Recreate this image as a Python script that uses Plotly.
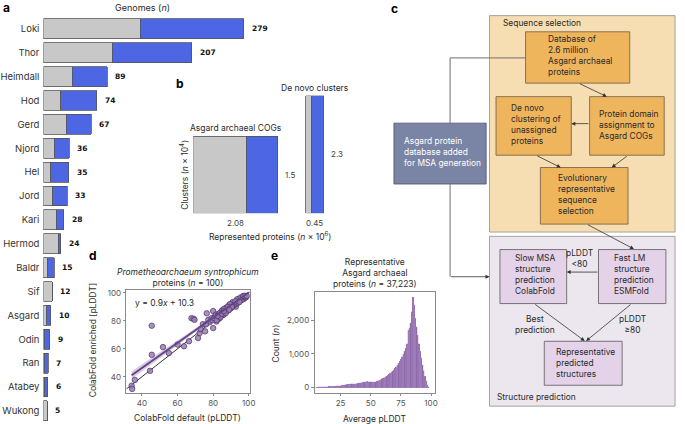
import numpy as np
import plotly.graph_objects as go

W, H = 685, 424
FONT = "Inter"
TXT = "#2a2a2a"

# ---------------- data ----------------
# Panel a: genomes per Asgard lineage
lineages = ["Loki", "Thor", "Heimdall", "Hod", "Gerd", "Njord", "Hel", "Jord", "Kari",
            "Hermod", "Baldr", "Sif", "Asgard", "Odin", "Ran", "Atabey", "Wukong"]
genomes_total = [279, 207, 89, 74, 67, 36, 35, 33, 28, 24, 15, 12, 10, 9, 7, 6, 5]
genomes_gray = [135, 96, 40, 24, 32, 15, 10, 13, 18, 21, 6, 12, 4, 1, 1, 2, 5]

# Panel b: clusters vs represented proteins
b_groups = ["Asgard archaeal COGs", "De novo clusters"]
b_proteins = [2.08, 0.45]        # x 10^6
b_clusters = [1.5, 2.3]          # x 10^4
b_proteins_gray = [1.31, 0.14]   # gray part of the width

# Panel d: ColabFold default vs enriched pLDDT
d_default = [34.2, 34.5, 36.0, 44.5, 45.5, 45.5, 51.8, 55.1, 63.6, 66.4,
             67.8, 69.0, 69.5, 71.5, 72.4, 73.0, 74.2, 75.5, 76.4, 77.3,
             79.1, 80.0, 80.0, 81.0, 81.8, 82.7, 83.6, 85.5, 87.3, 87.3,
             89.0, 90.9, 92.7, 94.5, 97.3, 78.0, 79.5, 80.5, 81.5, 82.0,
             83.0, 83.5, 84.0, 84.5, 85.0, 85.5, 86.0, 86.5, 87.0, 87.5,
             88.0, 88.5, 89.0, 89.5, 90.0, 90.0, 90.5, 91.0, 91.5, 92.0,
             92.0, 92.5, 93.0, 93.0, 93.5, 94.0, 94.0, 94.5, 95.0, 95.0,
             95.5, 96.0, 96.0, 96.5, 97.0, 97.0, 97.5, 98.0, 98.0, 98.5,
             91.0, 89.5, 88.0, 86.0, 84.0, 82.5, 85.0, 87.0, 93.5, 95.5,
             96.8, 92.5, 90.5, 89.0, 94.8, 97.8, 99.0, 60.0, 76.0, 86.0]
d_enriched = [33.6, 31.3, 37.7, 44.2, 55.7, 76.5, 61.2, 56.9, 61.8, 65.4,
              81.9, 81.5, 80.7, 67.7, 71.3, 74.0, 77.6, 72.5, 85.4, 80.7,
              81.9, 74.8, 87.0, 83.0, 79.5, 81.0, 81.9, 84.2, 86.6, 89.4,
              91.3, 92.4, 90.1, 95.5, 96.5, 79.0, 80.5, 82.0, 84.5, 80.5,
              85.0, 84.0, 86.0, 83.5, 87.5, 86.0, 84.5, 88.0, 87.0, 89.0,
              88.5, 87.5, 89.5, 90.5, 89.0, 91.0, 92.0, 90.5, 92.5, 91.5,
              93.0, 92.0, 93.5, 92.5, 94.0, 93.0, 94.5, 94.0, 95.0, 96.0,
              95.0, 96.0, 95.0, 96.5, 97.0, 95.5, 96.8, 97.5, 96.5, 97.0,
              93.5, 92.0, 90.0, 88.5, 82.5, 83.5, 85.0, 85.5, 95.5, 96.8,
              97.8, 94.0, 90.0, 88.0, 93.5, 98.0, 97.8, 63.0, 77.5, 87.0]
fit_slope, fit_intercept = 0.9, 10.3

# Panel e: histogram of average pLDDT (bin centres, counts)
e_bins = list(range(5, 99))
e_counts = [10, 15, 20, 20, 22, 25, 25, 28, 30, 30,
            32, 35, 35, 38, 40, 42, 45, 48, 50, 55,
            60, 65, 70, 78, 85, 92, 100, 105, 108, 110,
            112, 115, 118, 120, 125, 130, 138, 145, 152, 160,
            168, 175, 180, 178, 172, 168, 165, 162, 165, 175,
            190, 205, 220, 238, 255, 275, 295, 318, 340, 365,
            390, 418, 450, 485, 525, 568, 615, 665, 720, 780,
            845, 910, 985, 1070, 1170, 1300, 1700, 1760, 1900, 2250,
            2680, 2450, 2050, 1800, 1550, 1300, 1080, 880, 680, 500,
            340, 200, 90, 25]

# ---------------- helpers ----------------
def fx(p):
    return p / W

def fy(p):
    return 1 - p / H

GRAY = "#c8c8c8"
BLUE = "#4d66e3"
EDGE = "#555555"

fig = go.Figure()
ann = []
shapes = []

# ---------------- panel a ----------------
genomes_blue = [t - g for t, g in zip(genomes_total, genomes_gray)]
fig.add_trace(go.Bar(y=lineages, x=genomes_gray, orientation="h", marker=dict(color=GRAY, line=dict(color=EDGE, width=0.8)),
                     xaxis="x", yaxis="y", showlegend=False, hoverinfo="skip"))
fig.add_trace(go.Bar(y=lineages, x=genomes_blue, orientation="h", marker=dict(color=BLUE, line=dict(color=EDGE, width=0.8)),
                     xaxis="x", yaxis="y", showlegend=False, hoverinfo="skip"))
for lab, tot in zip(lineages, genomes_total):
    ann.append(dict(x=tot, y=lab, xref="x", yref="y", text=str(tot), showarrow=False, xanchor="left", xshift=6,
                    font=dict(family="DejaVu Sans", size=7.5, color="#111", weight="bold")))

# ---------------- panel b ----------------
b_gap = 0.7
left = 0.0
for g, prot, clu, gr in zip(b_groups, b_proteins, b_clusters, b_proteins_gray):
    fig.add_trace(go.Bar(x=[left + gr / 2], y=[clu], width=[gr], marker=dict(color=GRAY, line=dict(color=EDGE, width=0.8)),
                         xaxis="x2", yaxis="y2", showlegend=False, hoverinfo="skip"))
    fig.add_trace(go.Bar(x=[left + gr + (prot - gr) / 2], y=[clu], width=[prot - gr],
                         marker=dict(color=BLUE, line=dict(color=EDGE, width=0.8)),
                         xaxis="x2", yaxis="y2", showlegend=False, hoverinfo="skip"))
    ann.append(dict(x=left + prot / 2, y=0, xref="x2", yref="y2", text=f"{prot:.2f}", showarrow=False,
                    yanchor="top", yshift=-3, font=dict(family=FONT, size=8, color="#444")))
    ann.append(dict(x=left + prot, y=clu / 2, xref="x2", yref="y2", text=f"{clu}", showarrow=False,
                    xanchor="left", xshift=5, font=dict(family=FONT, size=8, color="#444")))
    ann.append(dict(x=left + prot / 2, y=clu, xref="x2", yref="y2", text=g, showarrow=False,
                    yanchor="bottom", yshift=1, font=dict(family=FONT, size=8.5, color=TXT)))
    left += prot + b_gap
b_xmax = left - b_gap

# ---------------- panel d ----------------
xd = np.array(d_default)
yd = np.array(d_enriched)
xline = np.linspace(xd.min(), 100, 60)
yline = fit_slope * xline + fit_intercept
res = yd - (fit_slope * xd + fit_intercept)
s = np.sqrt(np.sum(res ** 2) / (len(xd) - 2))
se = s * np.sqrt(1 / len(xd) + (xline - xd.mean()) ** 2 / np.sum((xd - xd.mean()) ** 2))
band = 1.98 * se
fig.add_trace(go.Scatter(x=[28, 102], y=[28, 102], mode="lines", line=dict(color="#333333", width=1),
                         xaxis="x3", yaxis="y3", showlegend=False, hoverinfo="skip"))
fig.add_trace(go.Scatter(x=np.concatenate([xline, xline[::-1]]), y=np.concatenate([yline + band, (yline - band)[::-1]]),
                         fill="toself", fillcolor="rgba(150,110,180,0.35)", line=dict(width=0),
                         xaxis="x3", yaxis="y3", showlegend=False, hoverinfo="skip"))
fig.add_trace(go.Scatter(x=xd, y=yd, mode="markers",
                         marker=dict(size=5.5, color="rgba(155,125,182,0.85)", line=dict(color="#4a3463", width=0.7)),
                         xaxis="x3", yaxis="y3", showlegend=False, hoverinfo="skip"))
fig.add_trace(go.Scatter(x=xline, y=yline, mode="lines", line=dict(color="#65468a", width=2),
                         xaxis="x3", yaxis="y3", showlegend=False, hoverinfo="skip"))

# ---------------- panel e ----------------
fig.add_trace(go.Bar(x=e_bins, y=e_counts, width=1, marker=dict(color="#8f6aab", line=dict(color="#ab90c3", width=0.3)),
                     xaxis="x4", yaxis="y4", showlegend=False, hoverinfo="skip"))

# ---------------- panel c (flow chart) ----------------
def box(x0, y0, x1, y1, fill, line="#666666", lw=0.8):
    shapes.append(dict(type="rect", xref="paper", yref="paper", x0=fx(x0), x1=fx(x1), y0=fy(y1), y1=fy(y0),
                       fillcolor=fill, line=dict(color=line, width=lw), layer="below"))

def seg(x0, y0, x1, y1, color="#6e6e6e", lw=1):
    shapes.append(dict(type="line", xref="paper", yref="paper", x0=fx(x0), x1=fx(x1), y0=fy(y0), y1=fy(y1),
                       line=dict(color=color, width=lw)))

def arrow(x0, y0, x1, y1, color="#333333"):
    ann.append(dict(x=fx(x1), y=fy(y1), xref="paper", yref="paper", ax=x0 - x1, ay=y0 - y1, axref="pixel", ayref="pixel",
                    showarrow=True, arrowhead=2, arrowsize=1, arrowwidth=0.8, arrowcolor=color, text=" ",
                    font=dict(size=1)))

def label(x, y, text, xanchor="left", size=8.4, color=TXT, align="left", **kw):
    d = dict(x=fx(x), y=fy(y), xref="paper", yref="paper", text=text, showarrow=False, xanchor=xanchor,
             yanchor="middle", align=align, font=dict(family=FONT, size=size, color=color))
    d.update(kw)
    ann.append(d)

ORANGE = "#efb55d"
PURPLE = "#e3d2e8"
box(492.7, 12.7, 681, 230.7, "#f6deb2", "#8e8e8e")
box(492.7, 235, 681, 406, "#ece6ee", "#8e8e8e")
box(529.3, 29, 635, 80.7, ORANGE, "#6b5c45")
box(499.3, 94.3, 575.7, 153.3, ORANGE, "#6b5c45")
box(594.3, 94.3, 670, 153.3, ORANGE, "#6b5c45")
box(544.3, 165.7, 633.3, 222.7, ORANGE, "#6b5c45")
box(395.7, 121, 489.3, 182.3, "#7a84a5", "#4b5068")
box(503.3, 248.3, 571, 302.7, PURPLE, "#5a5a5a")
box(603.3, 248.3, 671.7, 302.7, PURPLE, "#5a5a5a")
box(548.3, 340.7, 627.3, 385, PURPLE, "#5a5a5a")

seg(529.3, 55.3, 452.7, 55.3)
seg(452.7, 55.3, 452.7, 121)
seg(452.7, 182.3, 452.7, 275.7)
arrow(452.7, 275.7, 492.7, 275.7)

arrow(583.3, 80.7, 611.7, 94.3)
arrow(594.3, 121.5, 575.7, 121.5)
arrow(540, 153.3, 565, 165.7)
arrow(633.3, 153.3, 616.7, 165.7)
arrow(591.7, 222.7, 639.3, 247.8)
arrow(603.3, 271, 571, 271)
arrow(538.3, 302.7, 589.3, 340.4)
arrow(636.7, 302.7, 590.7, 340.4)

label(504, 20, "Sequence selection")
label(550, 52.9, "Database of<br>2.6 million<br>Asgard archaeal<br>proteins")
label(512.7, 122.4, "De novo<br>clustering of<br>unassigned<br>proteins")
label(601.7, 122.5, "Protein domain<br>assignment to<br>Asgard COGs")
label(560, 192.5, "Evolutionary<br>representative<br>sequence<br>selection")
label(404, 150.2, "Asgard protein<br>database added<br>for MSA generation", color="#ffffff")
label(516.7, 273.8, "Slow MSA<br>structure<br>prediction<br>ColabFold")
label(617.3, 273.8, "Fast LM<br>structure<br>prediction<br>ESMFold")
label(558.3, 363, "Representative<br>predicted<br>structures")
label(584, 257.7, "pLDDT<br>&lt;80", xanchor="center", align="center")
label(539.3, 323.9, "Best<br>prediction", xanchor="center", align="center")
label(638.3, 323.9, "pLDDT<br>≥80", xanchor="center", align="center")
label(498.3, 397.3, "Structure prediction")

# ---------------- titles / axis labels ----------------
for t, x, y in [("a", 3, 5), ("b", 179, 81), ("c", 396, 6), ("d", 90, 254), ("e", 274.5, 254)]:
    label(x, y, f"<b>{t}</b>", xanchor="center", size=12, color="#000")
label(141, 5, "Genomes (<i>n</i>)", xanchor="center", size=9)
label(182.7, 173, "Clusters (<i>n</i> × 10<sup>4</sup>)", xanchor="center", size=8.5, textangle=-90)
label(270, 235, "Represented proteins (<i>n</i> × 10<sup>6</sup>)", xanchor="center", size=8.5)
label(186.7, 276, "<i>Prometheoarchaeum syntrophicum</i><br>proteins (<i>n</i> = 100)", xanchor="center", align="center", size=8.5)
label(130.7, 301.7, "y = 0.9<i>x</i> + 10.3", size=8.5)
label(90, 340, "ColabFold enriched [pLDDT]", xanchor="center", size=8.5, textangle=-90)
label(186.7, 417.7, "ColabFold default (pLDDT)", xanchor="center", size=8.5)
label(376, 272, "Representative<br>Asgard archaeal<br>proteins (<i>n</i> = 37,223)", xanchor="center", align="center", size=8.5)
label(275.7, 343.3, "Count (<i>n</i>)", xanchor="center", size=8.5, textangle=-90)
label(376, 419.3, "Average pLDDT", xanchor="center", size=8.5)

tickfont = dict(family=FONT, size=8, color="#555")
frame = dict(showline=True, linecolor="#8a8a8a", linewidth=0.8, mirror=True, showgrid=False, zeroline=False,
             ticks="outside", ticklen=3, tickcolor="#8a8a8a", tickfont=tickfont)

fig.update_layout(
    width=W, height=H, margin=dict(l=0, r=0, t=0, b=0),
    paper_bgcolor="white", plot_bgcolor="rgba(0,0,0,0)",
    barmode="stack", bargap=0.17, showlegend=False,
    font=dict(family=FONT, color=TXT),
    annotations=ann, shapes=shapes,
    xaxis=dict(domain=[fx(40), fx(300)], range=[0, 357], visible=False),
    yaxis=dict(domain=[fy(422.8), fy(14)], autorange="reversed", showgrid=False, showline=False, zeroline=False,
               ticks="", tickfont=dict(family=FONT, size=9.5, color="#333"), ticklabelstandoff=3),
    xaxis2=dict(domain=[fx(192.3), fx(324.7)], range=[0, b_xmax], visible=False),
    yaxis2=dict(domain=[fy(211.7), fy(93.2)], range=[0, 2.3], visible=False, anchor="x2"),
    xaxis3=dict(domain=[fx(124.3), fx(249.3)], range=[31.3, 100.5], tickvals=[40, 60, 80, 100], anchor="y3", **frame),
    yaxis3=dict(domain=[fy(392.3), fy(289.3)], range=[28.7, 101.9], tickvals=[40, 60, 80, 100], anchor="x3", **frame),
    xaxis4=dict(domain=[fx(315.3), fx(437)], range=[3.5, 103], tickvals=[25, 50, 75, 100], anchor="y4", **frame),
    yaxis4=dict(domain=[fy(392.3), fy(290.7)], range=[-147, 2841], tickvals=[0, 1000, 2000], separatethousands=True,
                tickformat=",d", anchor="x4", **frame),
)

fig.write_html("out.html", config={"displayModeBar": False},
               post_script="document.body.style.margin='0';document.body.style.overflow='hidden';")
